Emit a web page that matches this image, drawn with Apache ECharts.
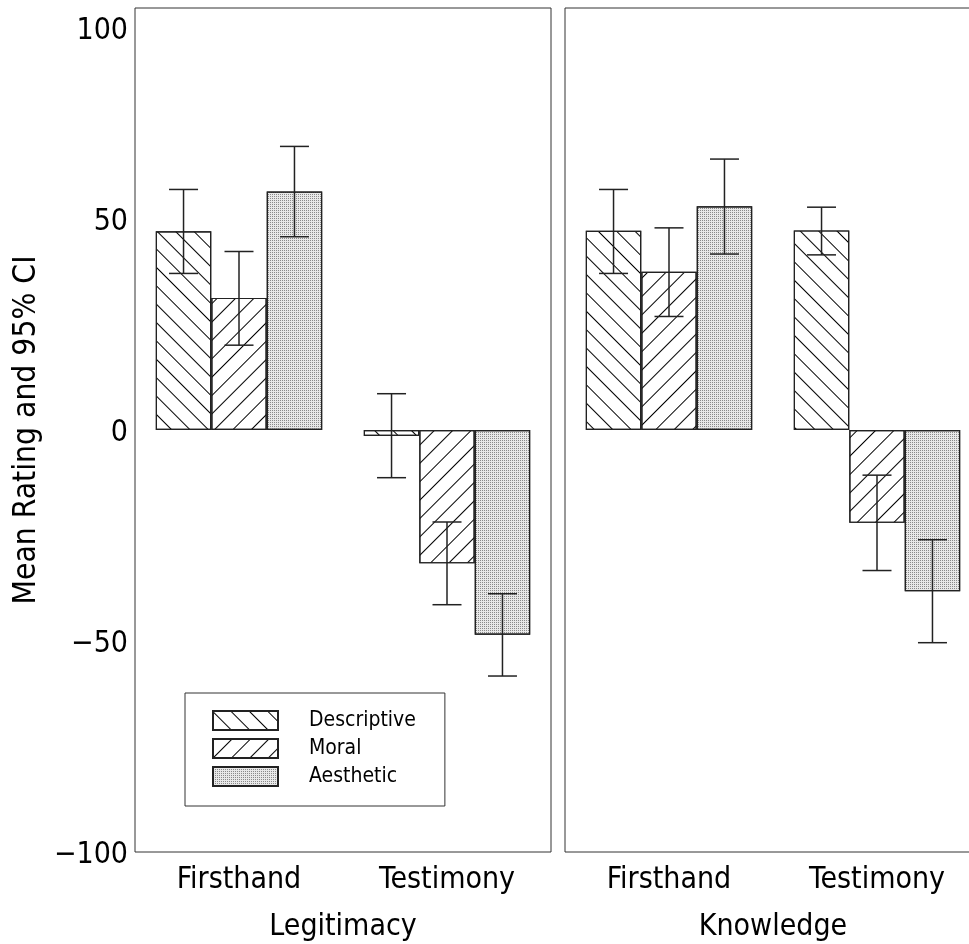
<!DOCTYPE html>
<html>
<head>
<meta charset="utf-8">
<script src="https://cdn.jsdelivr.net/npm/echarts@6/dist/echarts.min.js"></script>
<style>
html,body{margin:0;padding:0;background:#fff;}
#chart{width:969px;height:944px;}
</style>
</head>
<body>
<div id="chart"></div>
<script>
// ---- data ----
const categories = ['Firsthand', 'Testimony'];
const seriesNames = ['Descriptive', 'Moral', 'Aesthetic'];
const panelNames = ['Legitimacy', 'Knowledge'];

// Legitimacy panel (means per category)
const legitDescriptive = [47.1, -1.4];
const legitMoral = [31.3, -31.6];
const legitAesthetic = [56.5, -48.5];
// 95% CI [low, high] per category
const legitDescriptiveCI = [[37.1, 57.0], [-11.3, 8.6]];
const legitMoralCI = [[20.1, 42.3], [-41.4, -21.8]];
const legitAestheticCI = [[45.8, 67.2], [-58.3, -38.8]];

// Knowledge panel
const knowDescriptive = [47.2, 47.3];
const knowMoral = [37.5, -22.0];
const knowAesthetic = [53.0, -38.2];
const knowDescriptiveCI = [[37.1, 57.0], [41.5, 52.8]];
const knowMoralCI = [[26.9, 47.9], [-33.3, -10.7]];
const knowAestheticCI = [[41.7, 64.2], [-50.4, -26.0]];

// ---- styles ----
const FONT = "'DejaVu Sans Condensed', 'Liberation Sans', sans-serif";
const decals = [
  { symbol: 'rect', symbolSize: 1, dashArrayX: [1, 0], dashArrayY: [1, 11.4], rotation: Math.PI / 4, color: '#000' },
  { symbol: 'rect', symbolSize: 1, dashArrayX: [1, 0], dashArrayY: [1, 11.4], rotation: -Math.PI / 4, color: '#000' },
  { symbol: 'rect', symbolSize: 1, dashArrayX: [1, 1], dashArrayY: [1, 1], rotation: 0, color: '#8a8a8a' }
];
const fills = ['#ffffff', '#ffffff', '#e8e8e8'];

function barSeries(name, idx, data, axisIdx) {
  return {
    type: 'bar', name: name, data: data,
    xAxisIndex: axisIdx, yAxisIndex: axisIdx,
    barGap: '0%', barCategoryGap: '20%',
    itemStyle: { color: fills[idx], borderColor: '#222', borderWidth: 1.2, decal: decals[idx] },
    emphasis: { disabled: true }
  };
}

function ciData(cis) {
  const out = [];
  cis.forEach((ci, s) => ci.forEach((pair, c) => out.push([c, s, pair[0], pair[1]])));
  return out;
}

function errSeries(cis, axisIdx) {
  return {
    type: 'custom', name: 'ci' + axisIdx,
    xAxisIndex: axisIdx, yAxisIndex: axisIdx,
    data: ciData(cis),
    encode: { x: 0, y: [2, 3] },
    z: 5,
    renderItem: function (params, api) {
      const cat = api.value(0), s = api.value(1), lo = api.value(2), hi = api.value(3);
      const base = api.coord([cat, 0]);
      const band = api.size([1, 0])[0];
      const barW = band * 0.8 / 3;
      const x = base[0] + (s - 1) * barW;
      const yLo = api.coord([cat, lo])[1];
      const yHi = api.coord([cat, hi])[1];
      const half = 14.5;
      const st = { stroke: '#222', lineWidth: 1.5 };
      return {
        type: 'group', children: [
          { type: 'line', shape: { x1: x, y1: yLo, x2: x, y2: yHi }, style: st },
          { type: 'line', shape: { x1: x - half, y1: yLo, x2: x + half, y2: yLo }, style: st },
          { type: 'line', shape: { x1: x - half, y1: yHi, x2: x + half, y2: yHi }, style: st }
        ]
      };
    }
  };
}

const chart = echarts.init(document.getElementById('chart'), null, { renderer: 'canvas' });

const gridCommon = { top: 8, height: 844, width: 416, show: true, borderColor: '#333', borderWidth: 1, backgroundColor: 'transparent', containLabel: false, outerBoundsMode: 'none' };

function xAxis(i) {
  return {
    type: 'category', gridIndex: i, data: categories,
    axisLine: { show: false }, axisTick: { show: false }, splitLine: { show: false },
    axisLabel: { fontSize: 30, fontFamily: FONT, color: '#000', margin: 13 },
    name: panelNames[i], nameLocation: 'middle', nameGap: 60,
    nameTextStyle: { fontSize: 30, fontFamily: FONT, color: '#000' }
  };
}

function yAxis(i) {
  const ax = {
    type: 'value', gridIndex: i, min: -100, max: 100, interval: 50,
    axisLine: { show: false }, axisTick: { show: false }, splitLine: { show: false },
    axisLabel: { show: i === 0 }
  };
  if (i === 0) {
    ax.axisLabel = {
      show: true, fontSize: 30, fontFamily: FONT, color: '#000', margin: 7,
      padding: [6, 0, 0, 0],
      formatter: function (v) {
        const s = String(v).replace('-', '\u2212');
        return v === 100 ? '{t|' + s + '}' : s;
      },
      rich: { t: { fontSize: 30, fontFamily: FONT, color: '#000', padding: [40, 0, 0, 0] } }
    };
    ax.name = 'Mean Rating and 95% CI';
    ax.nameLocation = 'middle';
    ax.nameGap = 92;
    ax.nameRotate = 90;
    ax.nameTextStyle = { fontSize: 31.5, fontFamily: FONT, color: '#000' };
  }
  return ax;
}

const option = {
  animation: false,
  backgroundColor: '#fff',
  legend: {
    data: seriesNames,
    orient: 'vertical',
    left: 185, top: 693,
    itemWidth: 65, itemHeight: 19, itemGap: 7,
    padding: [17, 29, 19, 27],
    borderColor: '#333', borderWidth: 1,
    icon: 'rect',
    selectedMode: false,
    textStyle: { fontSize: 21, fontFamily: FONT, color: '#000', lineHeight: 19, padding: [0, 0, 0, 26] }
  },
  grid: [
    Object.assign({ left: 135 }, gridCommon),
    Object.assign({ left: 565 }, gridCommon)
  ],
  xAxis: [xAxis(0), xAxis(1)],
  yAxis: [yAxis(0), yAxis(1)],
  series: [
    barSeries(seriesNames[0], 0, legitDescriptive, 0),
    barSeries(seriesNames[1], 1, legitMoral, 0),
    barSeries(seriesNames[2], 2, legitAesthetic, 0),
    barSeries(seriesNames[0], 0, knowDescriptive, 1),
    barSeries(seriesNames[1], 1, knowMoral, 1),
    barSeries(seriesNames[2], 2, knowAesthetic, 1),
    errSeries([legitDescriptiveCI, legitMoralCI, legitAestheticCI], 0),
    errSeries([knowDescriptiveCI, knowMoralCI, knowAestheticCI], 1)
  ]
};
chart.setOption(option);
</script>
</body>
</html>
